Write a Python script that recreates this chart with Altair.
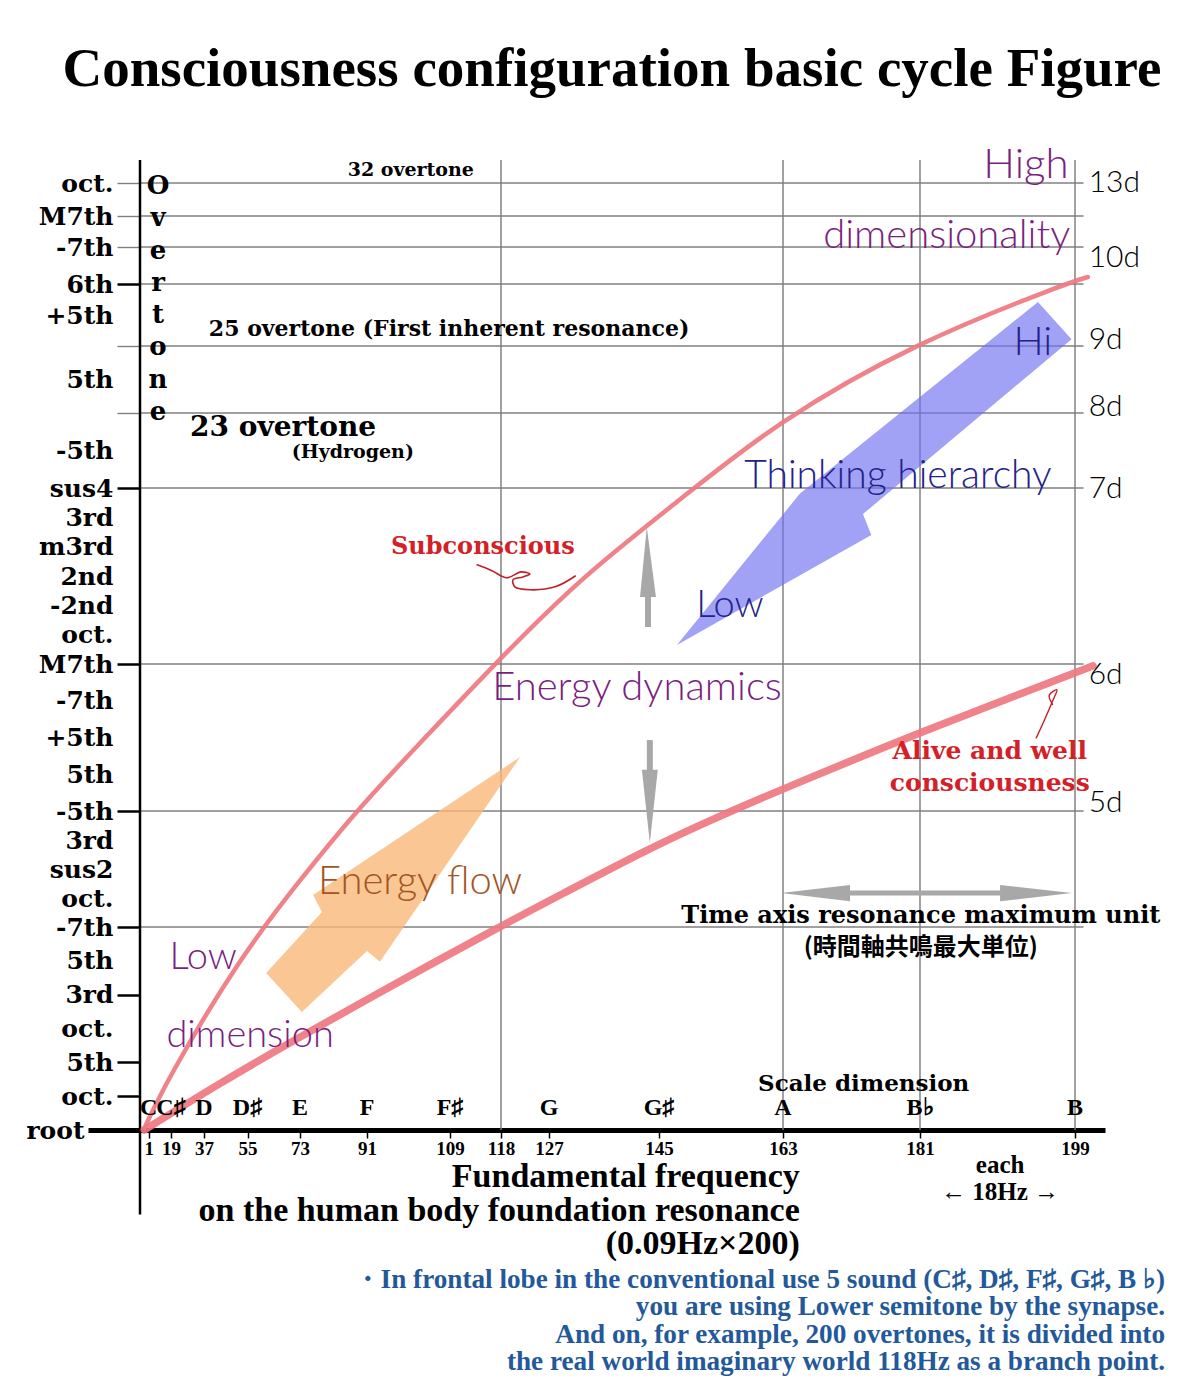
import json
import altair as alt
import pandas as pd

# ---------------- title ----------------
title_text = ["Consciousness configuration basic cycle Figure"]
title_hz = [137.3]
title_ov = [37.82]

# ---------------- axes: frequency (Hz) and overtone number ----------------
hz_ticks = [1, 19, 37, 55, 73, 91, 109, 118, 127, 145, 163, 181, 199]
note_names = ["C", "C♯", "D", "D♯", "E", "F", "F♯", "G", "G♯", "A", "B♭", "B"]
note_hz = [1, 19, 37, 55, 73, 91, 109, 127, 145, 163, 181, 199]
note_ov = [1.65] * len(note_hz)

overtone_values = list(range(1, 25)) + [25, 26, 28, 30, 32]
overtone_labels = ["root", "oct.", "5th", "oct.", "3rd", "5th", "-7th", "oct.", "sus2", "3rd",
                   "-5th", "5th", "+5th", "-7th", "M7th", "oct.", "-2nd", "2nd", "m3rd", "3rd",
                   "sus4", "-5th", "", "5th", "+5th", "6th", "-7th", "M7th", "oct."]
ticked_black = [1, 2, 3, 5, 7, 11, 15, 21, 26]
ticked_gray = [23, 25, 28, 30, 32]

grid_overtones = [32, 30, 28, 26, 25, 23, 21, 15, 11, 7]
grid_hz = [118, 163, 181, 199]
grid_hz_span = [0, 200]
grid_ov_span = [1, 33.38]
axis_ov_span = [-1.5, 33.38]

dim_labels = ["13d", "10d", "9d", "8d", "7d", "6d", "5d"]
dim_ov = [32, 27.4, 25.1, 23.18, 20.95, 14.7, 11.22]
dim_hz = [200.6] * len(dim_labels)

# ---------------- curves ----------------
upper_hz = [0.5, 15.8, 51.9, 73, 88.3, 103.1, 116.9, 132.1, 148.0, 162.1, 180.3, 198.1, 200.5]
upper_ov = [1.05, 2.48, 6.11, 8.62, 11.03, 12.93, 15.0, 17.93, 20.59, 22.76, 25.05, 26.05, 26.38]
lower_hz = [0.5, 43.6, 73, 92.3, 117.3, 128.8, 143.5, 152.8, 162.6, 180.7, 199, 201.1]
lower_ov = [1.0, 2.39, 3.75, 4.96, 6.97, 8.10, 9.72, 10.72, 11.57, 13.12, 14.76, 14.95]

sub_sq_hz = [113.8, 116.4, 119.1, 121.75, 123.4, 122.1, 120.25, 120.6, 123.4, 128.0, 131.3]
sub_sq_ov = [18.38, 18.18, 17.94, 18.14, 18.07, 17.97, 17.87, 17.63, 17.53, 17.63, 18.0]
alive_sq_hz = [194.5, 195.4, 196.3, 196.9, 196.0, 196.4]
alive_sq_ov = [12.99, 13.45, 13.94, 14.3, 14.15, 13.9]

# ---------------- arrows (outline vertices) ----------------
think_hz = [194.7, 198.6, 173.5, 174.6, 147.6, 165.2]
think_ov = [25.71, 25.11, 20.11, 19.4, 15.65, 20.8]
flow_hz = [61.4, 78.9, 76.5, 121.6, 93.8, 91.0, 73.5]
flow_ov = [5.64, 7.52, 8.1, 12.47, 5.97, 6.29, 4.49]

up_head_hz = [141.9, 144.5, 143.0]
up_head_ov = [17.28, 17.28, 19.67]
up_shaft_hz = [143.2]
up_shaft_ov = [16.26, 17.3]
down_head_hz = [142.2, 144.8, 143.5]
down_head_ov = [12.12, 12.12, 9.9]
down_shaft_hz = [143.5]
down_shaft_ov = [12.93, 12.1]
time_left_hz = [162.7, 171.8, 171.8]
time_right_hz = [198.65, 190.3, 190.3]
time_head_ov = [8.17, 8.45, 7.89]
time_shaft_hz = [171.0, 191.0]
time_shaft_ov = [8.17]

# ---------------- annotation texts ----------------
serif_text = ["32 overtone", "25 overtone (First inherent resonance)", "23 overtone",
              "(Hydrogen)", "Scale dimension", "Time axis resonance maximum unit"]
serif_hz = [100.5, 108.8, 67.2, 87.2, 173.6, 181.1]
serif_ov = [32.78, 25.27, 22.6, 21.96, 2.36, 7.38]
serif_sizes = [19, 22, 28, 19, 23, 24]

overtone_word = "\n".join("Overtone")
overtone_word_hz = [8.5]
overtone_word_ov = [31.82]

red_text = ["Subconscious", "Alive and well\nconsciousness"]
red_hz = [114.8, 189.1]
red_ov = [18.99, 12.63]
red_sizes = [24, 25]

cjk_text = ["(時間軸共鳴最大単位)"]
cjk_hz = [181.1]
cjk_ov = [6.38]

hand_text = ["High", "dimensionality", "Energy dynamics", "Low", "dimension",
             "Hi", "Thinking hierarchy", "Low", "Energy flow"]
hand_hz = [193.3, 184.1, 141.4, 36.5, 55.9, 194.1, 178.1, 155.3, 102.5]
hand_ov = [33.08, 28.71, 14.35, 6.08, 3.78, 25.05, 21.32, 16.98, 8.55]
hand_colors = ["#7a1f80", "#7a1f80", "#7a1f80", "#7a1f80", "#7a1f80",
               "#22228a", "#22228a", "#22228a", "#a3551f"]
hand_sizes = [42, 40, 40, 38, 38, 40, 39, 38, 40]

xtitle_text = ["Fundamental frequency\non the human body foundation resonance\n(0.09Hz×200)"]
xtitle_hz = [165.2]
xtitle_ov = [-0.39]

each_text = ["each\n← 18Hz →"]
each_hz = [190.3]
each_ov = [-0.035]

note_text = ["・In frontal lobe in the conventional use 5 sound (C♯, D♯, F♯, G♯, B ♭)\n"
             "you are using Lower semitone by the synapse.\n"
             "And on, for example, 200 overtones, it is divided into\n"
             "the real world imaginary world 118Hz as a branch point."]
note_hz_pos = [209.5]
note_ov_pos = [-3.43]

# ---------------- scales (piecewise, as drawn in the figure) ----------------
XS = alt.Scale(domain=[0, 1, 19, 37, 55, 73, 91, 109, 118, 127, 145, 163, 181, 199, 202.5],
               range=[0, 8.7, 31, 64, 107.5, 160, 227, 310, 361, 409, 519, 643, 780, 935, 965],
               nice=False, zero=False)
YS = alt.Scale(domain=[1, 7, 11, 15, 21, 23, 25, 26, 28, 30, 32, 33.5],
               range=[972, 769, 653, 506, 330, 255, 188, 126, 89, 58, 25, 0],
               nice=False, zero=False)


def in_list(vals):
    return "indexof(%s, datum.value) >= 0" % json.dumps(vals)


label_expr = "%s[indexof(%s, datum.value)]" % (json.dumps(overtone_labels), json.dumps(overtone_values))

YAXIS = alt.Axis(
    values=overtone_values, labelExpr=label_expr, title=None, domain=False, grid=False,
    labelFont="DejaVu Serif", labelFontWeight="bold", labelFontSize=25, labelColor="black",
    labelPadding=4, labelOverlap=False,
    tickSize={"condition": {"test": "datum.value == 1", "value": 52}, "value": 23},
    tickWidth={"condition": [{"test": "datum.value == 1", "value": 5},
                             {"test": in_list(ticked_gray), "value": 1.4}], "value": 2.5},
    tickColor={"condition": {"test": in_list(ticked_gray), "value": "#808080"}, "value": "black"},
    tickOpacity={"condition": {"test": in_list(ticked_black + ticked_gray), "value": 1}, "value": 0},
    labelOffset={"condition": {"test": "datum.value == 25", "value": -31}, "value": 0},
)
XAXIS = alt.Axis(
    values=hz_ticks, title=None, format="d", grid=False,
    domainColor="black", domainWidth=5, tickColor="black", tickWidth=1.5, tickSize=8,
    labelFont="Liberation Serif", labelFontWeight="bold", labelFontSize=19, labelColor="black",
    labelPadding=1, labelOverlap=False, labelFlush=False,
)


def X(field="hz"):
    return alt.X(f"{field}:Q", scale=XS, axis=XAXIS)


def Y(field="ov"):
    return alt.Y(f"{field}:Q", scale=YS, axis=YAXIS)


def text_layer(texts, hz, ov, **kw):
    df = pd.DataFrame({"t": texts, "hz": hz, "ov": ov})
    return alt.Chart(df).mark_text(lineBreak="\n", **kw).encode(x=X(), y=Y(), text="t:N")


def polygon(hz, ov, color, opacity):
    df = pd.DataFrame({"hz": hz, "ov": ov, "i": list(range(len(hz)))})
    return alt.Chart(df).mark_line(filled=True, color=color, fill=color, opacity=opacity,
                                   strokeWidth=0, interpolate="linear-closed").encode(
        x=X(), y=Y(), order="i:Q")


def path(hz, ov, color, width, interp, opacity=1.0):
    df = pd.DataFrame({"hz": hz, "ov": ov, "i": list(range(len(hz)))})
    return alt.Chart(df).mark_line(color=color, strokeWidth=width, interpolate=interp,
                                   opacity=opacity, strokeCap="round").encode(
        x=X(), y=Y(), order="i:Q")


layers = []

hgrid = alt.Chart(pd.DataFrame({"ov": grid_overtones, "x0": grid_hz_span[0], "x1": grid_hz_span[1]})).mark_rule(
    color="#808080", strokeWidth=1.4).encode(x=X("x0"), x2="x1:Q", y=Y())
layers.append(hgrid)

vgrid = alt.Chart(pd.DataFrame({"hz": grid_hz, "y0": grid_ov_span[0], "y1": grid_ov_span[1]})).mark_rule(
    color="#7a7a7a", strokeWidth=1.4).encode(x=X(), y=Y("y0"), y2="y1:Q")
layers.append(vgrid)

axis_line = alt.Chart(pd.DataFrame({"hz": [0], "y0": [axis_ov_span[0]], "y1": [axis_ov_span[1]]})).mark_rule(
    color="black", strokeWidth=2.5).encode(x=X(), y=Y("y0"), y2="y1:Q")
layers.append(axis_line)

# arrows
layers.append(polygon(flow_hz, flow_ov, "#f9b878", 0.8))
layers.append(polygon(think_hz, think_ov, "#6f6ff0", 0.65))
layers.append(polygon(up_head_hz, up_head_ov, "#a8a8a8", 1.0))
layers.append(polygon(down_head_hz, down_head_ov, "#a8a8a8", 1.0))
layers.append(polygon(time_left_hz, time_head_ov, "#a8a8a8", 1.0))
layers.append(polygon(time_right_hz, time_head_ov, "#a8a8a8", 1.0))
for sh, so in ((up_shaft_hz, up_shaft_ov), (down_shaft_hz, down_shaft_ov)):
    layers.append(alt.Chart(pd.DataFrame({"hz": sh, "y0": [so[0]], "y1": [so[1]]})).mark_rule(
        color="#a8a8a8", strokeWidth=6).encode(x=X(), y=Y("y0"), y2="y1:Q"))
layers.append(alt.Chart(pd.DataFrame({"x0": [time_shaft_hz[0]], "x1": [time_shaft_hz[1]], "ov": time_shaft_ov})).mark_rule(
    color="#a8a8a8", strokeWidth=5).encode(x=X("x0"), x2="x1:Q", y=Y()))

# curves
layers.append(path(upper_hz, upper_ov, "#ef7780", 4.5, "basis", 0.92))
layers.append(path(lower_hz, lower_ov, "#ef7780", 7.5, "basis", 0.92))
layers.append(path(sub_sq_hz, sub_sq_ov, "#c0202a", 1.6, "catmull-rom"))
layers.append(path(alive_sq_hz, alive_sq_ov, "#c0202a", 1.4, "catmull-rom"))

# texts
layers.append(text_layer(title_text, title_hz, title_ov, font="Liberation Serif", fontWeight="bold",
                         fontSize=55, color="black", align="center", baseline="alphabetic"))
for i, t in enumerate(serif_text):
    layers.append(text_layer([t], [serif_hz[i]], [serif_ov[i]], font="DejaVu Serif", fontWeight="bold",
                             fontSize=serif_sizes[i], color="black", align="center", baseline="middle"))
layers.append(text_layer([overtone_word], overtone_word_hz, overtone_word_ov, font="DejaVu Serif",
                         fontWeight="bold", fontSize=26, lineHeight=32.3, color="black",
                         align="center", baseline="middle"))
for i, t in enumerate(red_text):
    layers.append(text_layer([t], [red_hz[i]], [red_ov[i]], font="DejaVu Serif", fontWeight="bold",
                             fontSize=red_sizes[i], lineHeight=32, color="#d42027",
                             align="center", baseline="middle"))
layers.append(text_layer(cjk_text, cjk_hz, cjk_ov, font="Noto Sans CJK JP", fontWeight="bold",
                         fontSize=24, color="black", align="center", baseline="middle"))
for i, t in enumerate(hand_text):
    layers.append(text_layer([t], [hand_hz[i]], [hand_ov[i]], font="Lato", fontWeight=300,
                             fontSize=hand_sizes[i], color=hand_colors[i], align="center",
                             baseline="middle"))
layers.append(text_layer(dim_labels, dim_hz, dim_ov, font="Lato", fontWeight=300, fontSize=30,
                         color="black", align="left", baseline="middle"))
layers.append(text_layer(note_names, note_hz, note_ov, font="Liberation Serif", fontWeight="bold",
                         fontSize=24, color="black", align="center", baseline="middle"))
layers.append(text_layer(xtitle_text, xtitle_hz, xtitle_ov, font="Liberation Serif", fontWeight="bold",
                         fontSize=34, lineHeight=33.5, color="black", align="right", baseline="middle"))
layers.append(text_layer(each_text, each_hz, each_ov, font="Liberation Serif", fontWeight="bold",
                         fontSize=25, lineHeight=27, color="black", align="center", baseline="middle"))
layers.append(text_layer(note_text, note_hz_pos, note_ov_pos, font="Liberation Serif", fontWeight="bold",
                         fontSize=27.2, lineHeight=27.5, color="#23599a", align="right", baseline="middle"))

chart = alt.layer(*layers).properties(
    width=965, height=972,
    autosize=alt.AutoSizeParams(type="none"),
    padding={"left": 132, "top": 150, "right": 87, "bottom": 255},
    background="white",
).configure_view(strokeWidth=0)

chart.save("out.html", embed_options={"renderer": "svg", "actions": False})
